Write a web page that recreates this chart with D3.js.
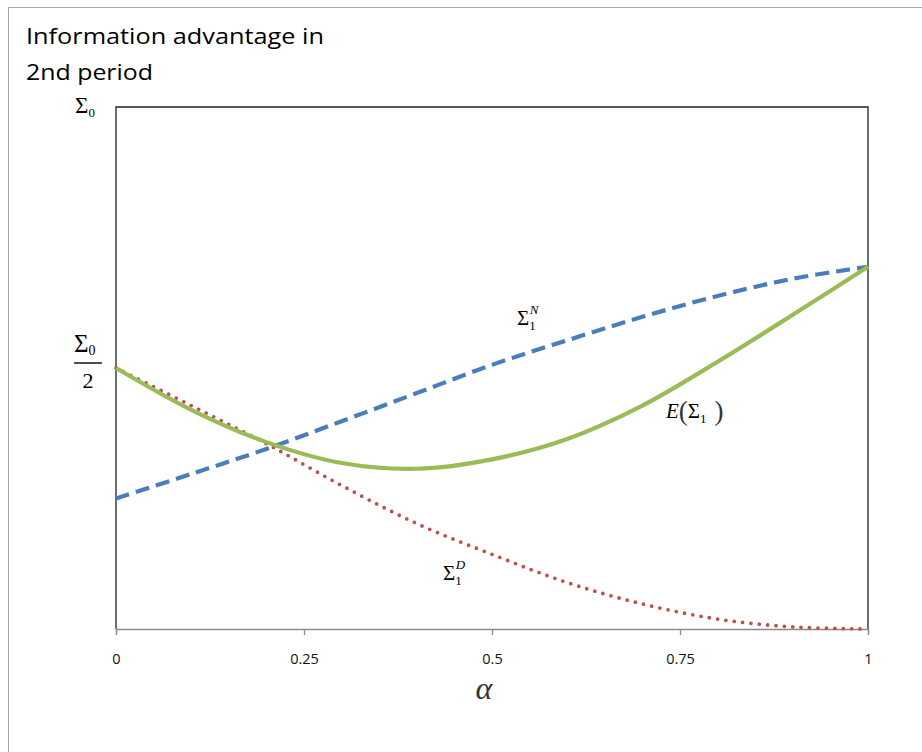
<!DOCTYPE html>
<html><head><meta charset="utf-8">
<script src="https://cdn.jsdelivr.net/npm/d3@7"></script>
<style>body{margin:0;background:#fff}svg{display:block}</style>
</head><body>
<svg id="c" width="922" height="752"></svg>
<script>
const alphas = [0,0.1,0.2,0.3,0.4,0.5,0.6,0.7,0.8,0.9,1.0];
const sigmaN = [0.25,0.297,0.345,0.398,0.452,0.506,0.553,0.598,0.638,0.671,0.694];
const sigmaE = [0.5,0.42,0.358,0.318,0.307,0.325,0.364,0.428,0.512,0.602,0.694];
const sigmaD = [0.5,0.428,0.355,0.275,0.202,0.143,0.089,0.048,0.019,0.004,0.0];
const xTicks = [0,0.25,0.5,0.75,1];
const xTickLabels = ["0","0.25","0.5","0.75","1"];

const svg = d3.select("#c");
const m = {l:116, r:868, t:107, b:629};
const x = d3.scaleLinear().domain([0,1]).range([m.l,m.r]);
const y = d3.scaleLinear().domain([0,1]).range([m.b,m.t]);

// outer frame
svg.append("path").attr("d","M8.5,752 V7.5 H922").attr("fill","none").attr("stroke","#a6a6a6").attr("stroke-width",1);

// title
const title = svg.append("text").attr("font-family","'Open Sans', sans-serif").attr("font-size",21).attr("fill","#000");
title.append("tspan").attr("x",26).attr("y",44).attr("textLength",298).attr("lengthAdjust","spacingAndGlyphs").text("Information advantage in");
title.append("tspan").attr("x",26).attr("y",80).attr("textLength",127).attr("lengthAdjust","spacingAndGlyphs").text("2nd period");

// plot frame
svg.append("path").attr("d",`M${m.l},${m.b} V${m.t} H${m.r} V${m.b}`).attr("fill","none").attr("stroke","#222").attr("stroke-width",1.3);

// x axis
const xa = svg.append("g").attr("transform",`translate(0,${m.b})`)
  .call(d3.axisBottom(x).tickValues(xTicks).tickFormat((d,i)=>xTickLabels[i]).tickSize(6).tickPadding(19));
xa.select(".domain").attr("stroke","#8c8c8c").attr("stroke-width",1.3);
xa.selectAll(".tick line").attr("stroke","#8c8c8c").attr("stroke-width",1.3);
xa.selectAll(".tick text").attr("font-family","'Open Sans', sans-serif").attr("font-size",14.5).attr("fill","#111");

// x axis label
svg.append("text").attr("x",484).attr("y",699).attr("text-anchor","middle")
  .attr("font-family","'Liberation Serif', 'DejaVu Serif', serif").attr("font-style","italic").attr("font-size",32).attr("fill","#333").text("α");

// y labels
const serif = "'Liberation Serif', 'Times New Roman', serif";
const yl1 = svg.append("text").attr("x",75).attr("y",113).attr("font-family",serif).attr("font-size",23).attr("fill","#000");
yl1.append("tspan").text("Σ");
yl1.append("tspan").attr("font-size",13).attr("dy",4).text("0");

const yl2 = svg.append("text").attr("x",74).attr("y",352).attr("font-family",serif).attr("font-size",25).attr("fill","#000");
yl2.append("tspan").text("Σ");
yl2.append("tspan").attr("font-size",14).attr("dy",3).text("0");
svg.append("line").attr("x1",74).attr("x2",102).attr("y1",363).attr("y2",363).attr("stroke","#000").attr("stroke-width",1.4);
svg.append("text").attr("x",88).attr("y",388).attr("text-anchor","middle").attr("font-family",serif).attr("font-size",22).attr("fill","#000").text("2");

// lines
const line = d3.line().x(d=>x(d[0])).y(d=>y(d[1])).curve(d3.curveCatmullRom.alpha(0.5));
const toPts = arr => alphas.map((a,i)=>[a,arr[i]]);

svg.append("path").datum(toPts(sigmaD)).attr("d",line).attr("fill","none")
  .attr("stroke","#c0504d").attr("stroke-width",3.8).attr("stroke-linecap","round").attr("stroke-dasharray","0 8.4");
svg.append("path").datum(toPts(sigmaN)).attr("d",line).attr("fill","none")
  .attr("stroke","#4a7ebb").attr("stroke-width",4.2).attr("stroke-dasharray","14 7");
svg.append("path").datum(toPts(sigmaE)).attr("d",line).attr("fill","none")
  .attr("stroke","#9bbb59").attr("stroke-width",4.2);

// curve labels
function sigLabel(xp, yp, sup){
  const t = svg.append("text").attr("x",xp).attr("y",yp).attr("font-family",serif).attr("font-size",21).attr("fill","#000");
  t.append("tspan").text("Σ");
  t.append("tspan").attr("font-size",13).attr("dy",5).attr("dx",0).text("1");
  t.append("tspan").attr("font-size",13).attr("font-style","italic").attr("dy",-16).attr("dx",-6).text(sup);
}
sigLabel(517, 325, "N");
sigLabel(443, 580, "D");

const el = svg.append("text").attr("x",666).attr("y",418).attr("font-family",serif).attr("font-size",21).attr("fill","#000");
el.append("tspan").attr("font-style","italic").text("E");
el.append("tspan").attr("font-size",27).attr("fill","#333").attr("dy",2).text("(");
el.append("tspan").attr("font-size",21).attr("dy",-2).text("Σ");
el.append("tspan").attr("font-size",13).attr("dy",5).attr("dx",0).text("1");
el.append("tspan").attr("font-size",27).attr("fill","#333").attr("dy",-3).attr("dx",8).text(")");
</script>
</body></html>
